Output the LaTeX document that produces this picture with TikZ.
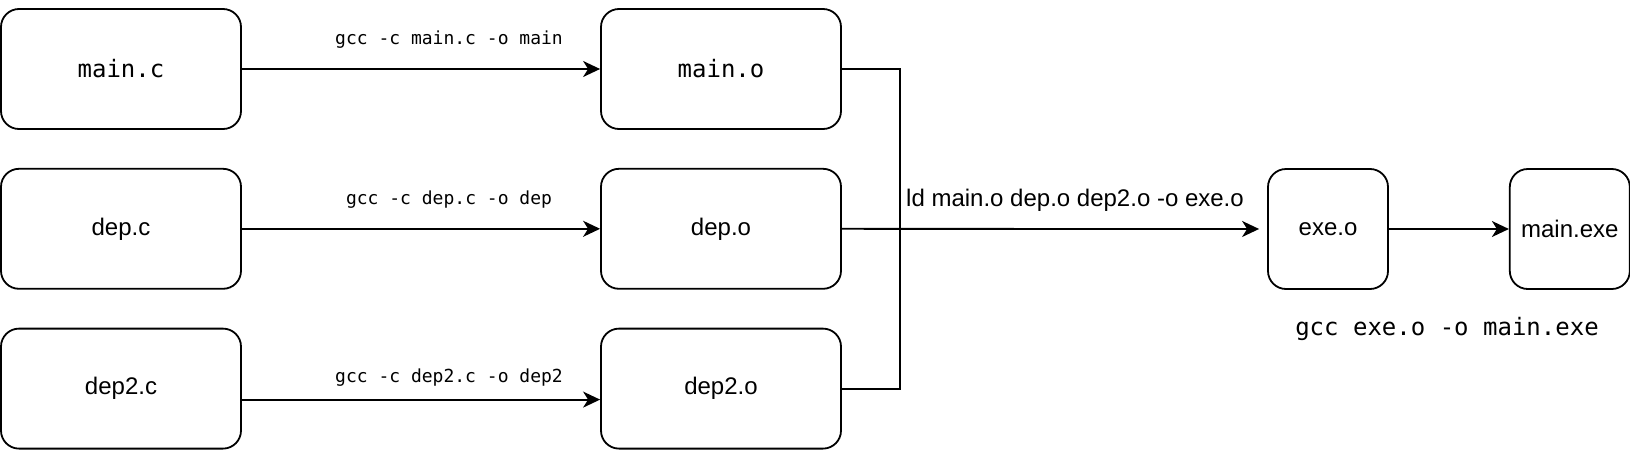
\documentclass[tikz,border=0pt]{standalone}
\usepackage{fontspec}
\setmainfont{Liberation Sans}
\setmonofont{DejaVu Sans Mono}
\usetikzlibrary{positioning}
\usetikzlibrary{arrows.meta}

\begin{document}
\begin{tikzpicture}[x=1pt, y=1pt]

                \def\d{38pt}

                % box and arrow looks
                \tikzset{
                    filebox/.style={draw, line width=1.8pt, rounded corners=18pt,
                        minimum width=240pt, minimum height=120pt, inner sep=0pt,
                        font=\fontsize{24}{28}\selectfont},
                    smallbox/.style={filebox, minimum width=120pt},
                    flow/.style={line width=1.8pt,
                        -{Stealth[length=17pt, width=16pt, inset=5pt]}},
                    cmd/.style={font=\ttfamily\fontsize{18}{22}\selectfont}
                }

                \useasboundingbox (0,0) rectangle (1630,-450);

                % sources on the left, objects in the middle
                \begin{scope}
                    \node (mainc) [filebox] at (121, -69)
                    {\ttfamily main.c};
                    \node (depc) [filebox, below=\d of mainc]
                    {dep.c};
                    \node (dep2c) [filebox, below=\d of depc]
                    {dep2.c};
                    \node (maino) [filebox] at (721, -69)
                    {\ttfamily main.o};
                    \node (depo) [filebox, below=\d of maino]
                    {dep.o};
                    \node (dep2o) [filebox, below=\d of depo]
                    {dep2.o};
                    \node (exeo) [smallbox] at (1328, -229)
                    {exe.o};
                    \node (mainexe) [smallbox, right=120pt of exeo]
                    {main.exe};
                \end{scope}

                % commands
                \node (gccmain) [cmd] at (449, -40) {gcc -c main.c -o main};
                \node (gccdep) [cmd] at (449, -200) {gcc -c dep.c -o dep};
                \node (gccdeptwo) [cmd] at (449, -378) {gcc -c dep2.c -o dep2};
                \node (ldcmd) [font=\fontsize{24}{28}\selectfont] at (1075, -200)
                {ld main.o dep.o dep2.o -o exe.o};
                \node (gccexe) [font=\ttfamily\fontsize{24}{28}\selectfont] at (1447, -329)
                {gcc exe.o -o main.exe};

                \coordinate (bus) at (900, -229);

                \begin{scope}[line width=1.8pt]
                    \draw[flow] (mainc) -- (maino);
                    \draw[flow] (depc) -- (depo);
                    \draw[flow] ([yshift=-11pt]dep2c.east) -- ([yshift=-11pt]dep2o.west);
                    \draw (maino.east) -| (bus) |- (dep2o.east);
                    \draw[flow, shorten >=8pt] (depo) -- (exeo);
                    \draw[flow] (exeo) -- (mainexe);
                \end{scope}

                \end{tikzpicture}
\end{document}
